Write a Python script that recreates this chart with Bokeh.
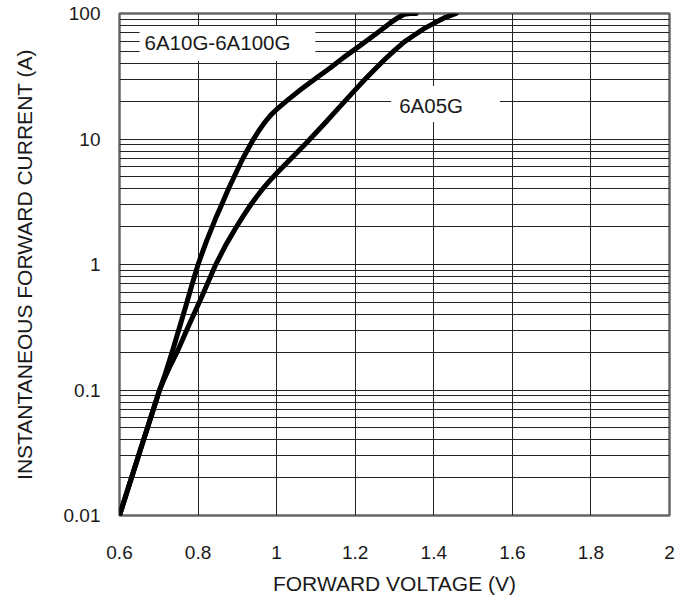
from bokeh.plotting import figure
from bokeh.models import Range1d, FixedTicker, Label
from bokeh.embed import file_html
from bokeh.resources import INLINE

# ---- data ----
v_6a10g = [0.600, 0.650, 0.702, 0.715, 0.736, 0.750, 0.770, 0.785, 0.800, 0.811, 0.822,
           0.844, 0.863, 0.878, 0.893, 0.912, 0.925, 0.939, 0.955, 0.970, 0.985, 1.000,
           1.015, 1.030, 1.058, 1.100, 1.137, 1.170, 1.200, 1.250, 1.290, 1.310, 1.325,
           1.340, 1.355]
i_6a10g = [0.010, 0.031, 0.100, 0.130, 0.210, 0.295, 0.48, 0.70, 1.00, 1.25, 1.55,
           2.30, 3.15, 4.05, 5.10, 6.80, 8.1, 9.7, 11.7, 13.6, 15.5, 17.2,
           18.9, 20.7, 24.3, 30.5, 37.0, 44.5, 52.0, 67.8, 84.5, 93.0, 98.5,
           100.0, 100.0]

v_6a05g = [0.600, 0.650, 0.702, 0.715, 0.730, 0.748, 0.774, 0.808, 0.826, 0.843, 0.870,
           0.897, 0.916, 0.935, 0.950, 0.965, 0.982, 1.000, 1.025, 1.050, 1.075, 1.100,
           1.125, 1.150, 1.175, 1.200, 1.225, 1.250, 1.275, 1.300, 1.325, 1.350, 1.375,
           1.400, 1.430, 1.457]
i_6a05g = [0.010, 0.031, 0.100, 0.125, 0.158, 0.205, 0.315, 0.54, 0.73, 0.97, 1.42,
           1.98, 2.46, 3.02, 3.50, 4.02, 4.64, 5.33, 6.41, 7.69, 9.24, 11.2,
           13.6, 16.6, 20.2, 24.6, 29.9, 36.0, 43.0, 50.9, 59.4, 67.1, 75.7,
           83.5, 93.2, 100.0]

x_ticks = [0.6, 0.8, 1.0, 1.2, 1.4, 1.6, 1.8, 2.0]
x_tick_labels = ["0.6", "0.8", "1", "1.2", "1.4", "1.6", "1.8", "2"]
y_ticks = [0.01, 0.1, 1, 10, 100]
y_tick_labels = ["0.01", "0.1", "1", "10", "100"]
y_minor = [m * d for d in [0.01, 0.1, 1, 10] for m in range(2, 10)]

FONT = "Liberation Sans"
TXT = "#1a1a1a"

p = figure(frame_width=550, frame_height=502, y_axis_type="log",
           x_range=Range1d(0.6, 2.0), y_range=Range1d(0.01, 100),
           output_backend="svg", toolbar_location=None,
           min_border_left=119, min_border_top=13, min_border_right=8, min_border_bottom=76)

p.outline_line_color = "#666666"
p.outline_line_width = 2.5

# axes
p.xaxis.ticker = FixedTicker(ticks=x_ticks)
p.xaxis.major_label_overrides = {t: l for t, l in zip(x_ticks, x_tick_labels)}
p.yaxis.ticker = FixedTicker(ticks=y_ticks, minor_ticks=y_minor)
p.yaxis.major_label_overrides = {t: l for t, l in zip(y_ticks, y_tick_labels)}
for ax in (p.xaxis, p.yaxis):
    ax.axis_line_color = None
    ax.major_tick_line_color = None
    ax.minor_tick_line_color = None
    ax.major_tick_out = 0
    ax.major_label_text_font = FONT
    ax.major_label_text_font_size = "19px"
    ax.major_label_text_color = TXT
    ax.axis_label_text_font = FONT
    ax.axis_label_text_font_size = "21px"
    ax.axis_label_text_font_style = "normal"
    ax.axis_label_text_color = TXT
p.xaxis.axis_label = "FORWARD VOLTAGE (V)"
p.yaxis.axis_label = "INSTANTANEOUS FORWARD CURRENT (A)"
p.xaxis.major_label_standoff = 30
p.xaxis.axis_label_standoff = 10
p.yaxis.major_label_standoff = 15
p.yaxis.axis_label_standoff = 25

# grid
p.xgrid.ticker = FixedTicker(ticks=x_ticks)
p.xgrid.grid_line_color = "#222222"
p.xgrid.grid_line_width = 1
p.ygrid.ticker = FixedTicker(ticks=y_ticks, minor_ticks=y_minor)
p.ygrid.grid_line_color = "#222222"
p.ygrid.grid_line_width = 1
p.ygrid.minor_grid_line_color = "#222222"
p.ygrid.minor_grid_line_width = 1

# curves
p.line(v_6a10g, i_6a10g, line_color="black", line_width=5, line_join="round", line_cap="round")
p.line(v_6a05g, i_6a05g, line_color="black", line_width=5, line_join="round", line_cap="round")

# labels with white boxes
p.add_layout(Label(x=0.651, y=57.7, text="6A10G-6A100G", text_font=FONT,
                   text_font_size="20.5px", text_color=TXT, text_align="left",
                   text_baseline="middle", background_fill_color="white",
                   padding=(5, 25, 5, 7)))
p.add_layout(Label(x=1.2915, y=19.0, text="6A05G", text_font=FONT,
                   text_font_size="20.5px", text_color=TXT, text_align="left",
                   text_baseline="middle", background_fill_color="white",
                   padding=(8, 37, 8, 5)))

open("out.html", "w").write(file_html(p, INLINE))
